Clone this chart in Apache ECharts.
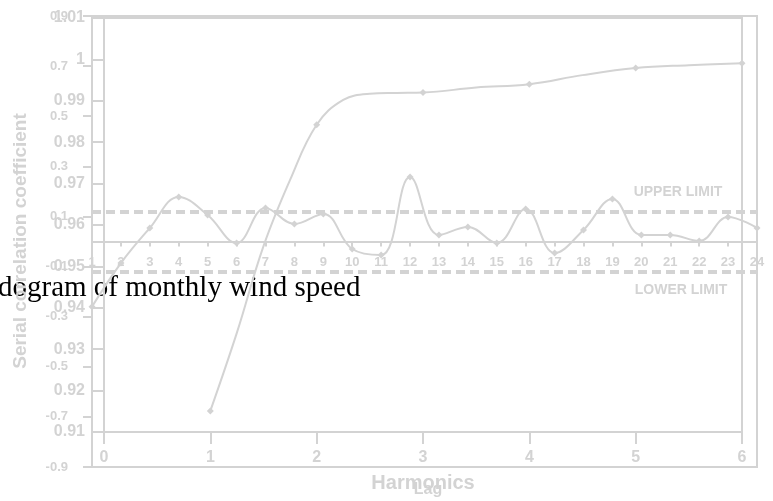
<!DOCTYPE html>
<html>
<head>
<meta charset="utf-8">
<script src="https://cdn.jsdelivr.net/npm/echarts@6/dist/echarts.min.js"></script>
<style>html,body{margin:0;padding:0;background:#fff;}#c{width:773px;height:501px;}</style>
</head>
<body>
<div id="c"></div>
<script>
// Correlogram (lag vs serial correlation)
var lags = [1,2,3,4,5,6,7,8,9,10,11,12,13,14,15,16,17,18,19,20,21,22,23,24];
var acf = [-0.26,-0.086,0.054,0.178,0.106,-0.006,0.134,0.07,0.11,-0.03,-0.054,0.257,0.026,0.058,-0.006,0.13,-0.046,0.046,0.17,0.026,0.026,0.002,0.098,0.054];
var upperLimit = 0.115;
var lowerLimit = -0.115;
// Cumulative periodogram (harmonics)
var harmonics = [1,1.25,1.5,1.75,2,2.25,2.5,2.75,3,3.5,4,4.5,5,5.5,6];
var cumPer = [0.9151,0.934,0.9549,0.9709,0.9842,0.9902,0.9917,0.9919,0.992,0.9932,0.994,0.9962,0.9979,0.9986,0.9991];
var titleText = 'dogram of monthly wind speed';

var G = '#d3d3d3';
var chart = echarts.init(document.getElementById('c'), null, {renderer:'canvas'});
var labA = {color:G, fontWeight:'bold', fontFamily:'Arial, Liberation Sans', fontSize:13};
var labB = {color:G, fontWeight:'bold', fontFamily:'Arial, Liberation Sans', fontSize:16};
chart.setOption({
  animation:false,
  backgroundColor:'#fff',
  grid:[
    {left:92, right:16, top:16, bottom:34, show:true, borderColor:G, borderWidth:2, backgroundColor:'transparent'},
    {left:104, right:31, top:18, bottom:69, show:true, borderColor:G, borderWidth:2, backgroundColor:'transparent'}
  ],
  xAxis:[
    {gridIndex:0, type:'value', min:1, max:24, interval:1, position:'bottom', offset:-225.5,
     axisLine:{onZero:false, lineStyle:{color:G, width:2}},
     axisTick:{show:true, length:5, lineStyle:{color:G, width:2}},
     axisLabel:Object.assign({margin:14}, labA), splitLine:{show:false}},
    {gridIndex:1, type:'value', min:0, max:6, interval:1, position:'bottom',
     axisLine:{onZero:false, lineStyle:{color:G, width:2}},
     axisTick:{show:true, length:12, lineStyle:{color:G, width:2}},
     axisLabel:Object.assign({margin:18}, labB), splitLine:{show:false}}
  ],
  yAxis:[
    {gridIndex:0, type:'value', min:-0.9, max:0.9, interval:0.2,
     axisLine:{show:true, lineStyle:{color:G, width:2}},
     axisTick:{show:true, length:9, lineStyle:{color:G, width:2}},
     axisLabel:Object.assign({margin:24, formatter:function(v){return v.toFixed(1);}}, labA),
     splitLine:{show:false}},
    {gridIndex:1, type:'value', min:0.91, max:1.01, interval:0.01,
     axisLine:{show:true, lineStyle:{color:G, width:2}},
     axisTick:{show:true, length:12, lineStyle:{color:G, width:2}},
     axisLabel:Object.assign({margin:19, formatter:function(v){return String(+v.toFixed(2));}}, labB),
     splitLine:{show:false}}
  ],
  series:[
    {type:'line', xAxisIndex:0, yAxisIndex:0, smooth:0.4,
     data:lags.map(function(l,i){return [l, acf[i]];}),
     symbol:'diamond', symbolSize:7, showSymbol:true,
     lineStyle:{color:G, width:2}, itemStyle:{color:G},
     markLine:{silent:true, symbol:'none', label:{show:false},
       lineStyle:{color:G, width:4, type:[9,5]},
       data:[{yAxis:upperLimit},{yAxis:lowerLimit}]}},
    {type:'line', xAxisIndex:1, yAxisIndex:1, smooth:0.4,
     data:harmonics.map(function(h,i){return [h, cumPer[i]];}),
     symbol:'diamond',
     symbolSize:function(v){return Number.isInteger(v[0]) ? 7 : 0;},
     showSymbol:true,
     lineStyle:{color:G, width:2}, itemStyle:{color:G}}
  ],
  graphic:[
    {type:'text', z:-1, x:-2, y:288, style:{text:titleText, font:'29px "Liberation Serif", "Times New Roman", serif', fill:'#000', textAlign:'left', textVerticalAlign:'middle'}},
    {type:'text', x:21, y:241, rotation:Math.PI/2, style:{text:'Serial correlation coefficient', font:'bold 19px Arial, "Liberation Sans"', fill:G, textAlign:'center', textVerticalAlign:'middle'}},
    {type:'text', x:678, y:192, style:{text:'UPPER LIMIT', font:'bold 14px Arial, "Liberation Sans"', fill:G, textAlign:'center', textVerticalAlign:'middle'}},
    {type:'text', x:681, y:290, style:{text:'LOWER LIMIT', font:'bold 14px Arial, "Liberation Sans"', fill:G, textAlign:'center', textVerticalAlign:'middle'}},
    {type:'text', x:423, y:483, style:{text:'Harmonics', font:'bold 20px Arial, "Liberation Sans"', fill:G, textAlign:'center', textVerticalAlign:'middle'}},
    {type:'text', x:428, y:490, style:{text:'Lag', font:'bold 16px Arial, "Liberation Sans"', fill:G, textAlign:'center', textVerticalAlign:'middle'}}
  ]
});
</script>
</body>
</html>
